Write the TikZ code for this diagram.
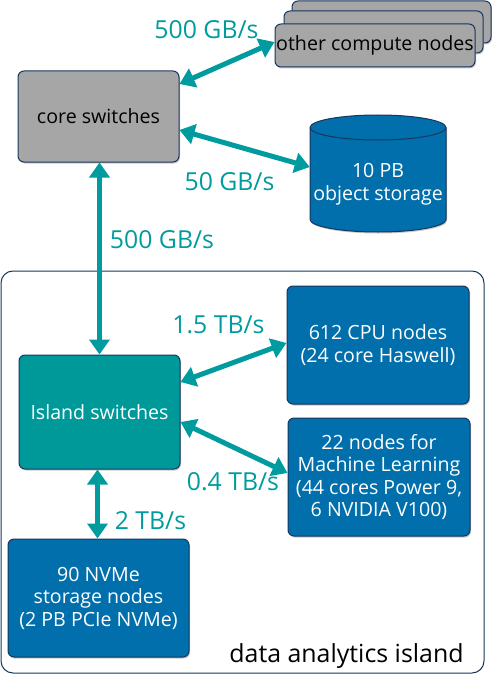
\documentclass[tikz,border=0pt]{standalone}
\usepackage{fontspec}
\setmainfont{Open Sans}
\usetikzlibrary{arrows.meta,shadows,calc}
\definecolor{navy}{HTML}{17375E}
\definecolor{teal1}{HTML}{009B9E}
\definecolor{tealfill}{HTML}{009999}
\definecolor{bluefill}{HTML}{006FAB}
\definecolor{grayfill}{HTML}{A6A6A6}
\tikzset{
  box/.style={draw=navy, line width=1pt, rounded corners=6pt, align=center,
    font=\fontsize{19.6}{22.5}\selectfont, inner sep=0pt,
    drop shadow={shadow xshift=1pt, shadow yshift=-1.5pt, fill=black!35, opacity=0.6}},
  graybox/.style={box, fill=grayfill, text=black},
  bluebox/.style={box, fill=bluefill, text=white},
  tealbox/.style={box, fill=tealfill, text=white},
  link/.style={draw=teal1, line width=5pt, {Triangle[length=15pt,width=20pt]}-{Triangle[length=15pt,width=20pt]}},
  rate/.style={text=teal1, font=\fontsize{24.8}{28}\selectfont, anchor=base, inner sep=0pt},
}
\begin{document}
\begin{tikzpicture}[x=1pt,y=-1pt]
\useasboundingbox (0,0) rectangle (492,674);
% island outline
\draw[navy, line width=1pt, rounded corners=12pt] (1,271) rectangle (484,673);
\node[anchor=base, inner sep=0pt, font=\fontsize{24.9}{28}\selectfont] (islabel) at (346.5,662) {data analytics island};
% other compute nodes stack
\node[graybox, minimum width=199pt, minimum height=42pt] (oc3) at (391.5,22) {};
\node[graybox, minimum width=199pt, minimum height=42pt] (oc2) at (383.5,32) {};
\node[graybox, minimum width=200pt, minimum height=43pt] (oc1) at (375,45.5) {other compute nodes};
% core switches
\node[graybox, minimum width=161pt, minimum height=91pt] (core) at (98.5,116.5) {core switches};
% object storage cylinder
\node[minimum width=136pt, minimum height=117pt, inner sep=0pt] (stor) at (378,173.5) {};
\fill[black!35, opacity=0.6, xshift=1pt, yshift=-1.5pt]
  (310,127.5) -- (310,219.5) arc[start angle=180, end angle=0, x radius=68, y radius=12.5]
  -- (446,127.5) arc[start angle=0, end angle=-180, x radius=68, y radius=12.5] -- cycle;
\filldraw[fill=bluefill, draw=navy, line width=1pt]
  (310,127.5) -- (310,219.5) arc[start angle=180, end angle=0, x radius=68, y radius=12.5]
  -- (446,127.5) arc[start angle=0, end angle=-180, x radius=68, y radius=12.5] -- cycle;
\draw[navy, line width=1pt] (310,127.5) arc[start angle=180, end angle=0, x radius=68, y radius=12.5];
\node[align=center, text=white, font=\fontsize{19.6}{22.5}\selectfont, inner sep=0pt] (stortext) at (378,184) {10 PB\\object storage};
% island nodes
\node[bluebox, minimum width=182pt, minimum height=118pt] (cpu) at (378,345) {612 CPU nodes\\(24 core Haswell)};
\node[bluebox, minimum width=182pt, minimum height=118pt] (ml) at (379,477) {22 nodes for\\Machine Learning\\(44 cores Power 9,\\6 NVIDIA V100)};
\node[tealbox, minimum width=161pt, minimum height=114pt] (isw) at (99.5,412) {Island switches};
\node[bluebox, minimum width=181pt, minimum height=118pt] (nvme) at (98.5,598) {90 NVMe\\storage nodes\\(2 PB PCIe NVMe)};
% links
\draw[link] ([yshift=32.5pt]core.east) -- ([yshift=3.5pt]oc1.west);
\draw[link] ([yshift=-13.5pt]core.east) -- ([yshift=6.5pt]stor.west);
\draw[link] ([xshift=1pt]core.south) -- (isw.north);
\draw[link] ([yshift=30pt]isw.east) -- ([yshift=2pt]cpu.west);
\draw[link] ([yshift=-10pt]isw.east) -- ([yshift=4pt]ml.west);
\draw[link] ([xshift=-2pt]isw.south) -- ([xshift=-1pt]nvme.north);
% rate labels
\node[rate] (r1) at (206.5,39) {500 GB/s};
\node[rate] (r2) at (229.5,190) {50 GB/s};
\node[rate] (r3) at (162,248) {500 GB/s};
\node[rate] (r4) at (218.5,333) {1.5 TB/s};
\node[rate] (r5) at (233,490) {0.4 TB/s};
\node[rate] (r6) at (150.5,529) {2 TB/s};
\end{tikzpicture}
\end{document}
